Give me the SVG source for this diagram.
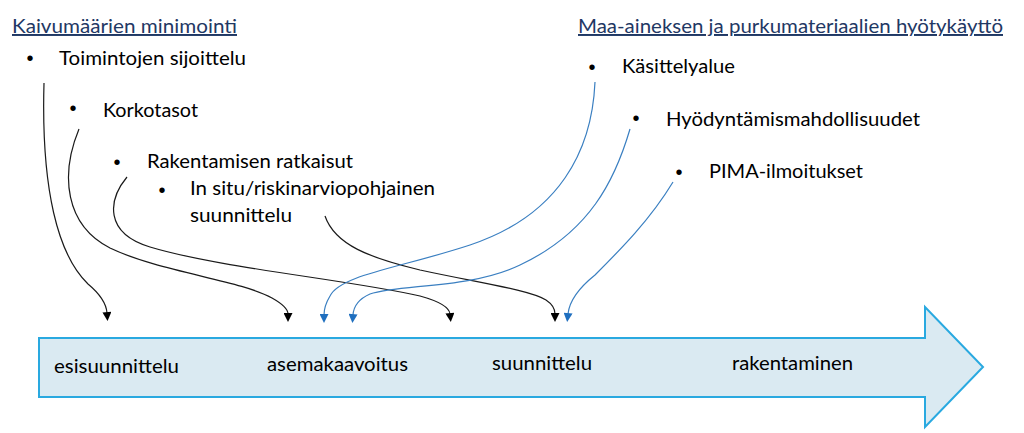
<svg xmlns="http://www.w3.org/2000/svg" width="1024" height="433" viewBox="0 0 1024 433">
<style>
  text { font-family: Lato, "Liberation Sans", Arial, sans-serif; font-size: 19.5px; fill: #000; }
  .hd { fill: #1F3864; text-decoration: underline; }
  .bul { text-anchor: middle; font-family: "Liberation Sans", Arial, sans-serif; font-size: 20px; }
  .k { fill: none; stroke: #1a1a1a; stroke-width: 1.2; }
  .b { fill: none; stroke: #3A7FC1; stroke-width: 1.2; }
</style>
<defs>
  <marker id="ak" viewBox="0 0 10 10" refX="1" refY="5" markerWidth="10" markerHeight="9" markerUnits="userSpaceOnUse" orient="auto">
    <path d="M0,0 L10,5 L0,10 z" fill="#000"/>
  </marker>
  <marker id="ab" viewBox="0 0 10 10" refX="1" refY="5" markerWidth="10" markerHeight="9" markerUnits="userSpaceOnUse" orient="auto">
    <path d="M0,0 L10,5 L0,10 z" fill="#1F6FBF"/>
  </marker>
</defs>
<rect width="1024" height="433" fill="#fff"/>

<g id="timeline">
  <path d="M39,338 L925,338 L925,307 L983,367 L925,427 L925,397 L39,397 Z" fill="#DAEAF2" stroke="#29A9E0" stroke-width="2"/>
  <text x="54" y="373" textLength="125" lengthAdjust="spacingAndGlyphs">esisuunnittelu</text>
  <text x="267" y="371" textLength="141" lengthAdjust="spacingAndGlyphs">asemakaavoitus</text>
  <text x="492" y="370" textLength="100" lengthAdjust="spacingAndGlyphs">suunnittelu</text>
  <text x="732" y="370" textLength="121" lengthAdjust="spacingAndGlyphs">rakentaminen</text>
</g>

<g id="kaivu">
  <text class="hd" x="12" y="33" textLength="225" lengthAdjust="spacingAndGlyphs">Kaivumäärien minimointi</text>
</g>
<g id="toimintojen">
  <text class="bul" x="30" y="65">•</text>
  <text x="59" y="65" textLength="187" lengthAdjust="spacingAndGlyphs">Toimintojen sijoittelu</text>
</g>
<g id="korkotasot">
  <text class="bul" x="73" y="115">•</text>
  <text x="103" y="117" textLength="95" lengthAdjust="spacingAndGlyphs">Korkotasot</text>
</g>
<g id="rakentamisen">
  <text class="bul" x="117" y="169">•</text>
  <text x="147" y="168" textLength="206" lengthAdjust="spacingAndGlyphs">Rakentamisen ratkaisut</text>
</g>
<g id="insitu">
  <text class="bul" x="162" y="197">•</text>
  <text x="190" y="195" textLength="245" lengthAdjust="spacingAndGlyphs">In situ/riskinarviopohjainen</text>
  <text x="190" y="222" textLength="102" lengthAdjust="spacingAndGlyphs">suunnittelu</text>
</g>

<g id="maa">
  <text class="hd" x="578" y="33" textLength="425" lengthAdjust="spacingAndGlyphs">Maa-aineksen ja purkumateriaalien hyötykäyttö</text>
</g>
<g id="kasittelyalue">
  <text class="bul" x="592" y="74">•</text>
  <text x="622" y="73" textLength="113" lengthAdjust="spacingAndGlyphs">Käsittelyalue</text>
</g>
<g id="hyodyntamis">
  <text class="bul" x="636" y="125">•</text>
  <text x="666" y="126" textLength="254" lengthAdjust="spacingAndGlyphs">Hyödyntämismahdollisuudet</text>
</g>
<g id="pima">
  <text class="bul" x="679" y="179">•</text>
  <text x="709" y="178" textLength="154" lengthAdjust="spacingAndGlyphs">PIMA-ilmoitukset</text>
</g>

<g id="connectors">
  <path class="k" marker-end="url(#ak)" d="M44,83 C41,190 58,255 88,284 Q106,299 107,313"/>
  <path class="k" marker-end="url(#ak)" d="M79,129 C60,175 65,225 110,248 C160,272 240,280 272,298 Q288,307 288,314"/>
  <path class="k" marker-end="url(#ak)" d="M127,177 C108,200 104,233 150,247 C220,268 350,280 420,296 Q449,304 450,314"/>
  <path class="k" marker-end="url(#ak)" d="M325,216 C335,245 370,258 420,270 C480,283 530,290 546,300 Q555,306 555,314"/>
  <path class="b" marker-end="url(#ab)" d="M595,82 C592,150 560,215 470,245 C400,268 340,275 330,296 Q324,306 324,315"/>
  <path class="b" marker-end="url(#ab)" d="M630,129 C615,180 590,232 520,265 C470,289 400,284 370,294 Q354,301 353,315"/>
  <path class="b" marker-end="url(#ab)" d="M673,182 C650,220 620,250 595,275 Q570,295 568,314"/>
</g>
</svg>
